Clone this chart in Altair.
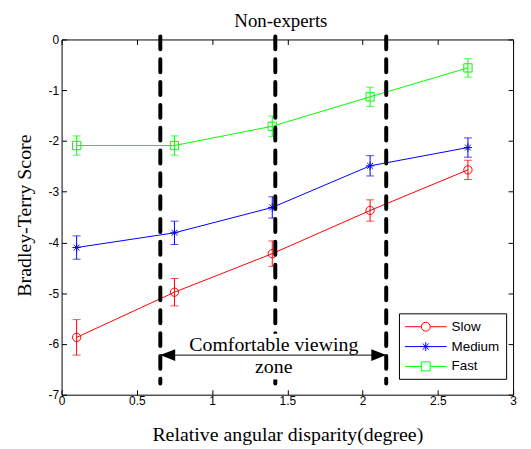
import altair as alt
import pandas as pd

# ---- data ----
x_vals = [0.1, 0.75, 1.4, 2.05, 2.7]
series = ["Slow", "Medium", "Fast"]
colors = ["#ff0000", "#0000ff", "#00ff00"]
slow = [-5.87, -4.98, -4.22, -3.37, -2.57]
slow_err = [0.35, 0.27, 0.25, 0.21, 0.19]
medium = [-4.10, -3.81, -3.31, -2.49, -2.13]
medium_err = [0.23, 0.23, 0.21, 0.20, 0.19]
fast = [-2.09, -2.09, -1.71, -1.13, -0.56]
fast_err = [0.19, 0.19, 0.20, 0.19, 0.18]

zone_x = [0.656, 1.42, 2.157]
zone_top = 0.06
zone_bottom = -6.78
arrow_y = -6.22
label_lines = ["Comfortable viewing", "zone"]
label_y = [-6.13, -6.58]
label_x = 1.41
label_box_x = [0.80, 2.02]
label_box_y = [-5.80, -6.70]

x_ticks = [0, 0.5, 1, 1.5, 2, 2.5, 3]
y_ticks = [-7, -6, -5, -4, -3, -2, -1, 0]

rows = []
for name, ys, es in [("Slow", slow, slow_err), ("Medium", medium, medium_err), ("Fast", fast, fast_err)]:
    for xv, yv, ev in zip(x_vals, ys, es):
        rows.append({"series": name, "x": xv, "y": yv, "lo": yv - ev, "hi": yv + ev})
df = pd.DataFrame(rows)

zone_df = pd.DataFrame({"x": zone_x, "top": [zone_top] * 3, "bottom": [zone_bottom] * 3})
arrow_df = pd.DataFrame({"x": [zone_x[0]], "x2": [zone_x[2]], "y": [arrow_y]})
head_l = pd.DataFrame({"x": [zone_x[0]], "y": [arrow_y]})
head_r = pd.DataFrame({"x": [zone_x[2]], "y": [arrow_y]})
text_df = pd.DataFrame({"x": [label_x] * 2, "y": label_y, "t": label_lines})
box_df = pd.DataFrame({"x": [label_box_x[0]], "x2": [label_box_x[1]],
                       "y": [label_box_y[0]], "y2": [label_box_y[1]]})

SERIF = "Liberation Serif"
SANS = "Liberation Sans"

XS = alt.Scale(domain=[0, 3], nice=False, zero=False)
YS = alt.Scale(domain=[-7, 0], nice=False, zero=False)


def col_scale():
    return alt.Scale(domain=series, range=colors)


asterisk = "M0,-1V1M-1,0H1M-0.7,-0.7L0.7,0.7M-0.7,0.7L0.7,-0.7"
marker_shapes = ["circle", asterisk, "square"]

# legend symbols: line + marker (unit = 7px for symbolSize 196)
leg_slow = "M-1.07,0H1.29M2.57,0H4.93M1.29,0A0.64,0.64 0 1,0 2.57,0A0.64,0.64 0 1,0 1.29,0Z"
leg_med = "M-1.07,0H4.93M1.93,-0.64V0.64M1.29,0H2.57M1.48,-0.45L2.38,0.45M1.48,0.45L2.38,-0.45"
leg_fast = "M-1.07,0H1.29M2.57,0H4.93M1.29,-0.64H2.57V0.64H1.29Z"
legend_shapes = [leg_slow, leg_med, leg_fast]

common_axis = dict(offset=-5, tickSize=5, domain=False, grid=False, tickColor="black",
                   tickWidth=1, labelFont=SANS, labelFontSize=12, labelColor="black",
                   labelOverlap=False, labelFlush=False, labelExpr="'' + datum.value")

bottom_axis = alt.Axis(orient="bottom", values=x_ticks, labelPadding=1,
                       title="Relative angular disparity(degree)", titleFont=SERIF,
                       titleFontSize=20, titleFontWeight="normal", titleColor="black",
                       titleX=227.5, titleY=51, titleBaseline="alphabetic", titleAlign="center",
                       **common_axis)
left_axis = alt.Axis(orient="left", values=y_ticks, labelPadding=3,
                     title="Bradley-Terry Score", titleFont=SERIF, titleFontSize=20,
                     titleFontWeight="normal", titleColor="black", titleX=-36, titleY=177,
                     titleAngle=270, titleBaseline="alphabetic", titleAlign="center",
                     **common_axis)
# top axis carries the chart title "Non-experts"
top_axis = alt.Axis(orient="top", values=x_ticks, labels=False, offset=-5,
                    tickSize=5, domain=False, grid=False, tickColor="black",
                    title="Non-experts", titleFont=SERIF, titleFontSize=19,
                    titleFontWeight="normal", titleColor="black", titleX=220.5, titleY=-18,
                    titleBaseline="alphabetic", titleAlign="center")
right_axis = alt.Axis(orient="right", values=y_ticks, labels=False, title=None, offset=-5,
                      tickSize=5, domain=False, grid=False, tickColor="black")

lines = alt.Chart(df).mark_line(strokeWidth=1).encode(
    x=alt.X("x:Q", scale=XS, axis=bottom_axis),
    y=alt.Y("y:Q", scale=YS, axis=left_axis),
    color=alt.Color("series:N", scale=col_scale(), legend=None),
)

err_rule = alt.Chart(df).mark_rule(strokeWidth=1).encode(
    x=alt.X("x:Q", scale=XS, axis=None),
    y=alt.Y("lo:Q", scale=YS, axis=None),
    y2="hi:Q",
    color=alt.Color("series:N", scale=col_scale(), legend=None),
)

err_caps = alt.Chart(df).transform_fold(["lo", "hi"], as_=["end", "v"]).mark_tick(
    orient="horizontal", size=8, thickness=1
).encode(
    x=alt.X("x:Q", scale=XS, axis=None),
    y=alt.Y("v:Q", scale=YS, axis=None),
    color=alt.Color("series:N", scale=col_scale(), legend=None),
)

points = alt.Chart(df).mark_point(filled=False, size=70, strokeWidth=1, opacity=1).encode(
    x=alt.X("x:Q", scale=XS, axis=None),
    y=alt.Y("y:Q", scale=YS, axis=None),
    color=alt.Color("series:N", scale=col_scale(), legend=None),
    shape=alt.Shape("series:N", scale=alt.Scale(domain=series, range=marker_shapes), legend=None),
)

leg = alt.Legend(title=None, orient="none", legendX=340, legendY=276, strokeColor="black",
                 fillColor="white", padding=6, symbolSize=196, symbolStrokeWidth=1,
                 labelFont=SANS, labelFontSize=13.5, labelColor="black", labelOffset=32,
                 rowPadding=6, cornerRadius=0)

legend_layer = alt.Chart(df).transform_filter("false").mark_point(
    filled=False, strokeWidth=1, opacity=1
).encode(
    x=alt.X("x:Q", scale=XS, axis=None),
    y=alt.Y("y:Q", scale=YS, axis=None),
    color=alt.Color("series:N", scale=col_scale(), legend=leg),
    shape=alt.Shape("series:N", scale=alt.Scale(domain=series, range=legend_shapes), legend=leg),
)

zones = alt.Chart(zone_df).mark_rule(
    strokeWidth=4, strokeDash=[13, 10], strokeCap="round", color="black"
).encode(
    x=alt.X("x:Q", scale=XS, axis=top_axis),
    y=alt.Y("top:Q", scale=YS, axis=right_axis),
    y2="bottom:Q",
)

box = alt.Chart(box_df).mark_rect(color="white").encode(
    x=alt.X("x:Q", scale=XS, axis=None), x2="x2:Q",
    y=alt.Y("y:Q", scale=YS, axis=None), y2="y2:Q",
)

arrow = alt.Chart(arrow_df).mark_rule(strokeWidth=1.5, color="#3a3a3a").encode(
    x=alt.X("x:Q", scale=XS, axis=None), x2="x2:Q",
    y=alt.Y("y:Q", scale=YS, axis=None),
)

head_left = alt.Chart(head_l).mark_point(
    shape="M0,0L2,-0.8L2,0.8Z", filled=True, size=225, color="black", opacity=1
).encode(
    x=alt.X("x:Q", scale=XS, axis=None),
    y=alt.Y("y:Q", scale=YS, axis=None),
)

head_right = alt.Chart(head_r).mark_point(
    shape="M0,0L-2,-0.8L-2,0.8Z", filled=True, size=225, color="black", opacity=1
).encode(
    x=alt.X("x:Q", scale=XS, axis=None),
    y=alt.Y("y:Q", scale=YS, axis=None),
)

texts = alt.Chart(text_df).mark_text(
    font=SERIF, fontSize=20, baseline="alphabetic", align="center", color="black"
).encode(
    x=alt.X("x:Q", scale=XS, axis=None),
    y=alt.Y("y:Q", scale=YS, axis=None),
    text="t:N",
)

chart = alt.layer(
    lines, err_rule, err_caps, points, zones, box, arrow, head_left, head_right, texts, legend_layer
).resolve_scale(
    color="independent", shape="independent"
).resolve_axis(
    x="independent", y="independent"
).properties(
    width=455, height=358,
    autosize=alt.AutoSizeParams(type="none"),
    padding={"left": 54, "top": 30, "right": 10, "bottom": 52},
    background="white",
).configure_view(stroke="black", strokeWidth=1)

chart.save("out.html", embed_options={"renderer": "svg", "actions": False})
